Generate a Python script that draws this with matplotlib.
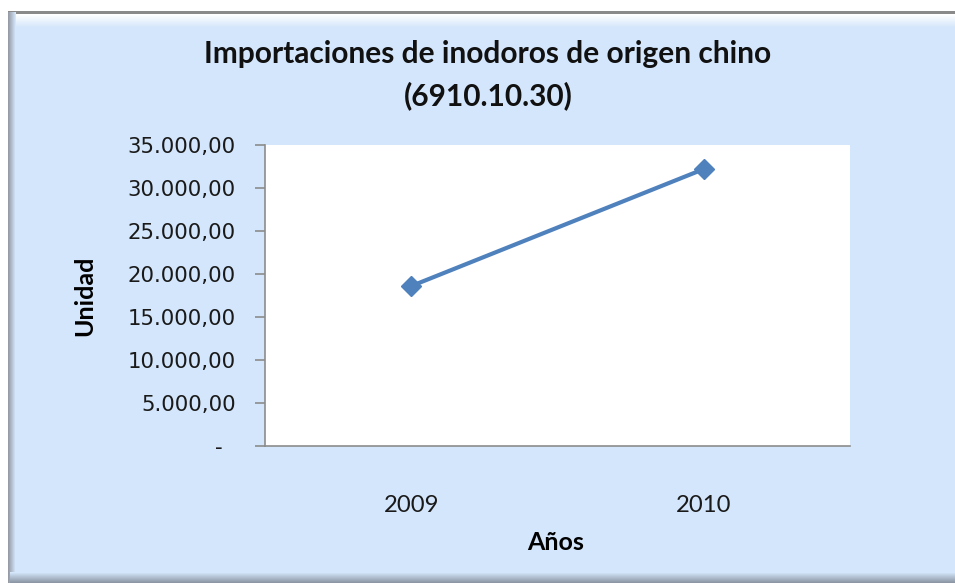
import numpy as np
import matplotlib.pyplot as plt
from matplotlib.ticker import FixedLocator

years = ["2009", "2010"]
unidades = [18600, 32200]
y_ticks = [0, 5000, 10000, 15000, 20000, 25000, 30000, 35000]
y_tick_labels = ["-  ", "5.000,00", "10.000,00", "15.000,00", "20.000,00",
                 "25.000,00", "30.000,00", "35.000,00"]

W, H = 955, 583
fig = plt.figure(figsize=(W / 100, H / 100), dpi=100)
fig.patch.set_facecolor("white")

# Excel-style chart area: light blue fill with a bevelled border
bg = np.ones((H, W, 3))
blue = np.array([212, 230, 251]) / 255
bg[12:, 8:] = blue
bg[11:14, 8:] = np.array([138, 138, 138]) / 255
for i, r in enumerate(range(14, 28)):
    t = i / 13
    bg[r, 10:] = (1 - t) * np.array([1.0, 1.0, 1.0]) + t * blue
for i, c in enumerate(range(8, 16)):
    t = i / 7
    bg[12:, c] = (1 - t) * np.array([150, 155, 165]) / 255 + t * blue
for i, r in enumerate(range(572, 583)):
    t = i / 10
    bg[r, 10:] = (1 - t) * blue + t * np.array([140, 150, 165]) / 255
bax = fig.add_axes([0, 0, 1, 1], zorder=-10)
bax.imshow(bg, aspect="auto", interpolation="nearest")
bax.axis("off")

ax = fig.add_axes([265 / W, 137 / H, 585 / W, 301 / H], zorder=2)
ax.set_facecolor("white")

x = list(range(len(years)))
ax.plot(x, unidades, color="#4F81BD", linewidth=3, marker="D",
        markersize=10, solid_capstyle="round", clip_on=False)

ax.set_xlim(-0.5, len(years) - 0.5)
ax.set_ylim(0, 35000)
ax.set_xticks(x)
ax.set_xticklabels(years, fontfamily="Lato", fontsize=17.2, color="#1a1a1a")
ax.yaxis.set_major_locator(FixedLocator(y_ticks))
ax.set_yticklabels(y_tick_labels, fontfamily="DejaVu Sans", fontsize=15.3,
                   color="#1a1a1a")

ax.tick_params(axis="y", direction="out", length=7, width=1.2,
               color="#8C8C8C", pad=14)
ax.tick_params(axis="x", length=0, pad=35)

for side in ["top", "right"]:
    ax.spines[side].set_visible(False)
for side in ["left", "bottom"]:
    ax.spines[side].set_color("#8C8C8C")
    ax.spines[side].set_linewidth(1.2)

ax.set_ylabel("Unidad", fontfamily="Lato", fontweight="bold", fontsize=18,
              va="center")
ax.yaxis.set_label_coords((85 - 265) / 585, (446 - 296) / 301)
ax.set_xlabel("Años", fontfamily="Lato", fontweight="bold", fontsize=18,
              va="center")
ax.xaxis.set_label_coords((556 - 265) / 585, -(543 - 446) / 301)

fig.text(488 / W, 1 - 75 / H,
         "Importaciones de inodoros de origen chino\n(6910.10.30)",
         ha="center", va="center", fontfamily="Lato", fontweight="bold",
         fontsize=21.5, linespacing=1.55, color="#111111")

fig.savefig("out.png", dpi=100)
plt.close(fig)
